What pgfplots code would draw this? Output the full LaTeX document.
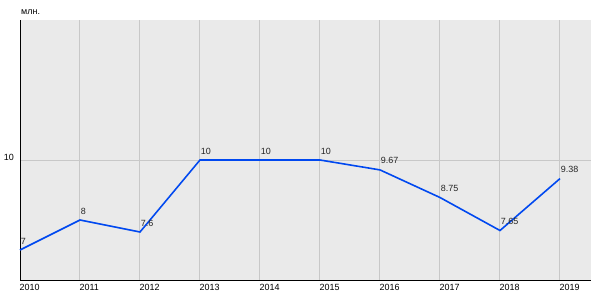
\documentclass[border=0pt]{standalone}
\usepackage{pgfplots}
\pgfplotsset{compat=1.18}
\usepackage{fontspec}
\setmainfont{Liberation Sans}
\definecolor{bgc}{RGB}{234,234,234}
\definecolor{gridc}{RGB}{200,200,200}
\definecolor{linec}{RGB}{0,72,240}
\begin{document}
\begin{tikzpicture}[x=1bp,y=1bp]
\path[use as bounding box] (0,0) rectangle (600,300);
\begin{axis}[
  at={(20bp,20bp)}, anchor=south west,
  scale only axis, width=571bp, height=260bp,
  xmin=2010, xmax=2019.517, ymin=6, ymax=14.667,
  axis x line*=bottom, axis y line*=left,
  axis line style={black, line width=1pt, -},
  axis background/.style={fill=bgc},
  xtick={2010,...,2019}, ytick={10},
  major tick length=0pt,
  xmajorgrids, ymajorgrids,
  major grid style={gridc, line width=1pt},
  x tick label style={/pgf/number format/1000 sep={}, anchor=north west, inner sep=0pt, xshift=-0.5bp, yshift=-4.5bp, font=\fontsize{9}{10}\selectfont},
  y tick label style={anchor=base east, inner sep=0pt, xshift=-6bp, yshift=0bp, font=\fontsize{9}{10}\selectfont},
  /pgf/number format/assume math mode=true,
  xticklabels={2010,2011,2012,2013,2014,2015,2016,2017,2018,2019},
  clip=false,
  nodes near coords,
  point meta=explicit symbolic,
  nodes near coords style={anchor=base west, inner sep=0pt, yshift=6bp, xshift=0bp, font=\fontsize{9}{10}\selectfont, text=black!85},
]
\addplot[linec, line width=1.6pt, mark=none] table[meta=lab] {
x y lab
2010 7 7
2011 8 8
2012 7.6 7.6
2013 10 10
2014 10 10
2015 10 10
2016 9.67 9.67
2017 8.75 8.75
2018 7.65 7.65
2019 9.38 9.38
};
\node[anchor=base west, inner sep=0pt, font=\fontsize{9}{10}\selectfont] at (rel axis cs:0,1) [xshift=1bp, yshift=5bp] {млн.};
\end{axis}
\end{tikzpicture}
\end{document}
